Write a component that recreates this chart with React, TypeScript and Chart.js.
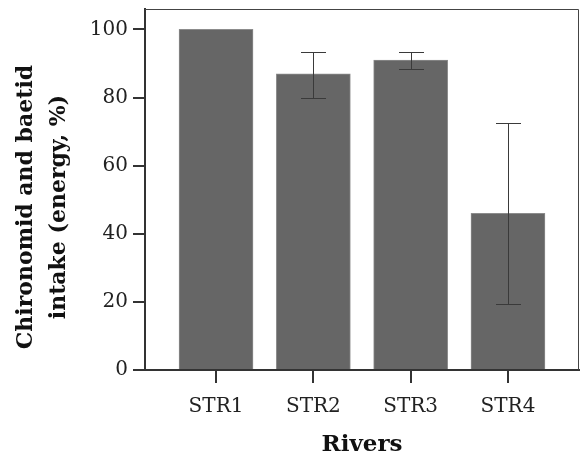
import { useEffect, useRef } from "react";
import { Chart, registerables } from "chart.js";
Chart.register(...registerables);

const categories = ["STR1", "STR2", "STR3", "STR4"];
const means = [100, 87, 91, 46];
const errLow: (number | null)[] = [null, 80, 88.5, 19.5];
const errHigh: (number | null)[] = [null, 93.5, 93.5, 72.5];
const yTicks = [0, 20, 40, 60, 80, 100];
const xTitle = "Rivers";
const yTitle = ["Chironomid and baetid", "intake (energy, %)"];

const SERIF = "'DejaVu Serif', serif";

const errorBarPlugin = {
  id: "errorBars",
  afterDatasetsDraw(chart: any) {
    const { ctx, scales } = chart;
    const xs = scales.x;
    const ys = scales.y;
    ctx.save();
    ctx.strokeStyle = "#3a3a3a";
    ctx.lineWidth = 1;
    categories.forEach((_, i) => {
      const lo = errLow[i];
      const hi = errHigh[i];
      if (lo == null || hi == null) return;
      const x = Math.round(xs.getPixelForValue(i + 1)) + 0.5;
      const yl = Math.round(ys.getPixelForValue(lo)) + 0.5;
      const yh = Math.round(ys.getPixelForValue(hi)) + 0.5;
      const cap = 12.5;
      ctx.beginPath();
      ctx.moveTo(x, yl);
      ctx.lineTo(x, yh);
      ctx.moveTo(x - cap, yl);
      ctx.lineTo(x + cap, yl);
      ctx.moveTo(x - cap, yh);
      ctx.lineTo(x + cap, yh);
      ctx.stroke();
    });
    ctx.restore();
  },
};

const framePlugin = {
  id: "frame",
  afterDraw(chart: any) {
    const { ctx, chartArea } = chart;
    ctx.save();
    ctx.strokeStyle = "#444";
    ctx.lineWidth = 1;
    ctx.beginPath();
    ctx.moveTo(chartArea.left, chartArea.top + 0.5);
    ctx.lineTo(chartArea.right - 0.5, chartArea.top + 0.5);
    ctx.lineTo(chartArea.right - 0.5, chartArea.bottom);
    ctx.stroke();
    ctx.restore();
  },
};

const yTitlePlugin = {
  id: "yTitle",
  afterDraw(chart: any) {
    const { ctx } = chart;
    ctx.save();
    ctx.fillStyle = "#111";
    ctx.font = `bold 22px ${SERIF}`;
    ctx.textAlign = "center";
    ctx.textBaseline = "middle";
    const cy = 207;
    const xs = [26, 59];
    yTitle.forEach((line, i) => {
      ctx.save();
      ctx.translate(xs[i], cy);
      ctx.rotate(-Math.PI / 2);
      ctx.fillText(line, 0, 0);
      ctx.restore();
    });
    ctx.restore();
  },
};

export default function App() {
  const ref = useRef<HTMLCanvasElement>(null);
  useEffect(() => {
    document.body.style.margin = "0";
    const chart = new Chart(ref.current!, {
      type: "bar",
      data: {
        datasets: [
          {
            data: categories.map((_, i) => ({ x: i + 1, y: means[i] })),
            backgroundColor: "#666666",
            borderColor: "#8c8c8c",
            borderWidth: 1,
            barThickness: 74,
          },
        ],
      },
      options: {
        animation: false,
        responsive: false,
        layout: { padding: { top: 9, right: 4, left: 0, bottom: 0 } },
        plugins: { legend: { display: false }, tooltip: { enabled: false } },
        scales: {
          x: {
            type: "linear",
            offset: false,
            min: 0.27,
            max: 4.73,
            afterBuildTicks: (s: any) => {
              s.ticks = categories.map((_, i) => ({ value: i + 1 }));
            },
            afterFit: (s: any) => {
              s.height = 87;
              s.paddingLeft = 0;
              s.paddingRight = 0;
            },
            ticks: {
              callback: (v: any) => categories[Number(v) - 1] ?? "",
              font: { family: SERIF, size: 20 },
              color: "#222",
              padding: 12,
              maxRotation: 0,
            },
            grid: { offset: false, drawOnChartArea: false, tickLength: 13, color: "#333", lineWidth: 2 },
            border: { color: "#333", width: 2 },
            title: {
              display: true,
              text: xTitle,
              font: { family: SERIF, size: 23, weight: "bold" },
              color: "#111",
              padding: { top: 0, bottom: -2 },
            },
          },
          y: {
            min: 0,
            max: 106,
            afterBuildTicks: (s: any) => {
              s.ticks = yTicks.map((v) => ({ value: v }));
            },
            afterFit: (s: any) => {
              s.width = 145;
              s.paddingTop = 0;
              s.paddingBottom = 0;
            },
            ticks: {
              font: { family: SERIF, size: 20 },
              color: "#222",
              padding: 5,
            },
            grid: { drawOnChartArea: false, tickLength: 12, color: "#333", lineWidth: 2 },
            border: { color: "#333", width: 2 },
          },
        },
      },
      plugins: [errorBarPlugin, framePlugin, yTitlePlugin],
    });
    return () => chart.destroy();
  }, []);
  return (
    <div style={{ width: 583, height: 457 }}>
      <canvas ref={ref} width={583} height={457} style={{ width: 583, height: 457 }} />
    </div>
  );
}
